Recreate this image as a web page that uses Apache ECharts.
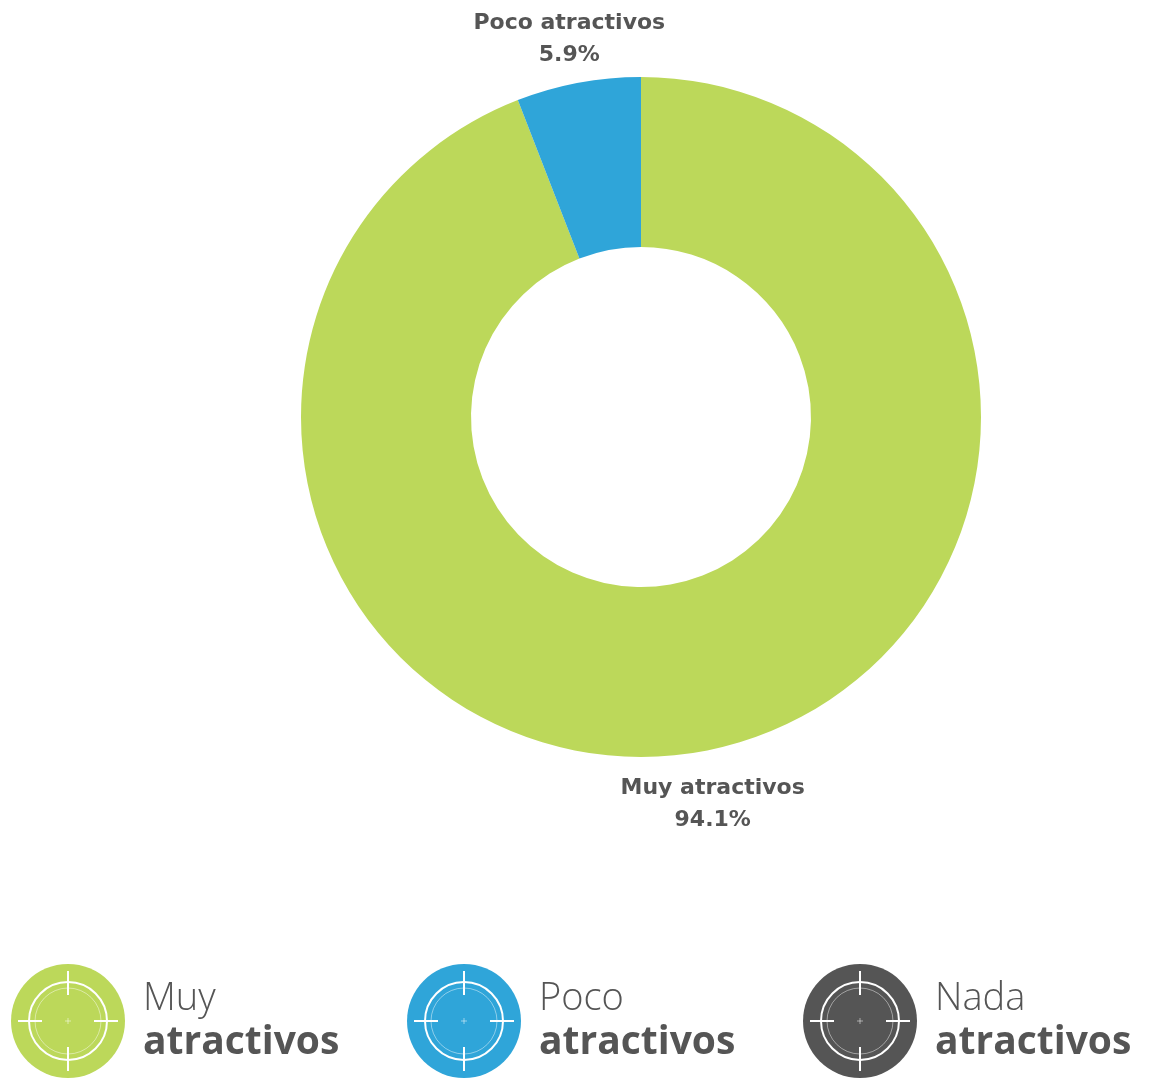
<!DOCTYPE html>
<html>
<head>
<meta charset="utf-8">
<script src="https://cdn.jsdelivr.net/npm/echarts@6/dist/echarts.min.js"></script>
<style>
html,body{margin:0;padding:0;background:#fff;}
#chart{width:1159px;height:1078px;}
</style>
</head>
<body>
<div id="chart"></div>
<script>
// Data
var categories = ['Muy atractivos', 'Poco atractivos', 'Nada atractivos'];
var legendTop = ['Muy', 'Poco', 'Nada'];
var legendBottom = ['atractivos', 'atractivos', 'atractivos'];
var values = [94.1, 5.9, 0];
var colors = ['#bcd85a', '#2fa5d9', '#555555'];

function iconFor(color) {
  var svg = '<svg xmlns="http://www.w3.org/2000/svg" width="114" height="114" viewBox="0 0 114 114">' +
    '<circle cx="57" cy="57" r="57" fill="' + color + '"/>' +
    '<circle cx="57" cy="57" r="39" fill="none" stroke="#fff" stroke-width="2"/>' +
    '<circle cx="57" cy="57" r="33" fill="none" stroke="#fff" stroke-opacity="0.45" stroke-width="1"/>' +
    '<g stroke="#fff" stroke-width="2">' +
    '<line x1="57" y1="7" x2="57" y2="31"/><line x1="57" y1="83" x2="57" y2="107"/>' +
    '<line x1="7" y1="57" x2="31" y2="57"/><line x1="83" y1="57" x2="107" y2="57"/>' +
    '</g>' +
    '<g stroke="#fff" stroke-opacity="0.5" stroke-width="1">' +
    '<line x1="54" y1="57" x2="60" y2="57"/><line x1="57" y1="54" x2="57" y2="60"/>' +
    '</g></svg>';
  return 'image://data:image/svg+xml;charset=utf-8,' + encodeURIComponent(svg);
}

var pieData = categories.map(function (c, i) {
  var d = { name: c, value: values[i], itemStyle: { color: colors[i] } };
  if (values[i] === 0) d.label = { show: false };
  return d;
});

var chart = echarts.init(document.getElementById('chart'), null, { renderer: 'canvas' });
chart.setOption({
  animation: false,
  backgroundColor: '#ffffff',
  legend: {
    left: 6,
    top: 959,
    orient: 'horizontal',
    selectedMode: false,
    itemWidth: 114,
    itemHeight: 114,
    itemGap: 52,
    data: categories.map(function (c, i) {
      return { name: c, icon: iconFor(colors[i]) };
    }),
    formatter: function (name) {
      var i = categories.indexOf(name);
      return '{a|' + legendTop[i] + '}\n{b|' + legendBottom[i] + '}';
    },
    textStyle: {
      rich: {
        a: { fontFamily: 'Open Sans', fontWeight: 300, fontSize: 38, color: '#555555', lineHeight: 44, width: 212, padding: [0, 0, 0, 13] },
        b: { fontFamily: 'Open Sans', fontWeight: 700, fontSize: 39, color: '#555555', lineHeight: 44, width: 212, padding: [0, 0, 0, 13] }
      }
    }
  },
  series: [
    {
      type: 'pie',
      center: [641, 417],
      radius: [170, 340],
      startAngle: 90,
      clockwise: true,
      silent: true,
      label: { show: false },
      labelLine: { show: false },
      data: pieData
    },
    {
      type: 'pie',
      center: [641, 417],
      radius: [374, 398],
      startAngle: 90,
      clockwise: true,
      silent: true,
      itemStyle: { color: 'rgba(0,0,0,0)' },
      labelLine: { show: false },
      label: {
        show: true,
        position: 'inside',
        rotate: 0,
        offset: [0, 5],
        formatter: function (p) { return p.name + '\n' + p.value.toFixed(1) + '%'; },
        fontFamily: 'DejaVu Sans',
        fontWeight: 700,
        fontSize: 22,
        lineHeight: 32,
        color: '#555555',
        align: 'center'
      },
      data: categories.map(function (c, i) {
        var d = { name: c, value: values[i], itemStyle: { color: 'rgba(0,0,0,0)' } };
        if (values[i] === 0) d.label = { show: false };
        return d;
      })
    }
  ]
});
</script>
</body>
</html>
